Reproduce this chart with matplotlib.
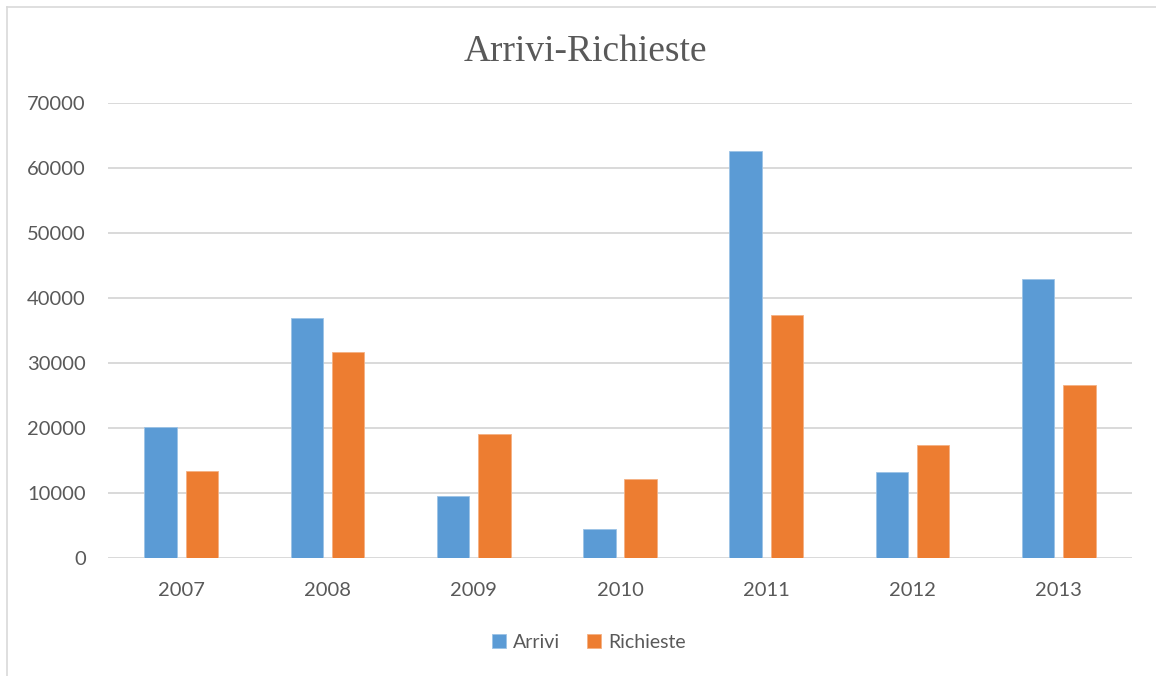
import matplotlib
matplotlib.use("Agg")
import matplotlib.pyplot as plt
from matplotlib.lines import Line2D
import numpy as np

# Data
years = ["2007", "2008", "2009", "2010", "2011", "2012", "2013"]
arrivi = [20150, 36900, 9540, 4400, 62650, 13230, 42870]
richieste = [13330, 31700, 19030, 12100, 37340, 17330, 26600]
y_ticks = [0, 10000, 20000, 30000, 40000, 50000, 60000, 70000]

BLUE = "#5B9BD5"
ORANGE = "#ED7D31"
TEXT = "#595959"
GRID = "#D9D9D9"

W, H = 1156, 676
fig = plt.figure(figsize=(W / 100, H / 100), dpi=100)
fig.patch.set_facecolor("white")

# Chart-area border (top and left edges)
fig.add_artist(Line2D([7 / W, 1.0], [1 - 7 / H, 1 - 7 / H], color=GRID, lw=1.2,
                      transform=fig.transFigure))
fig.add_artist(Line2D([7 / W, 7 / W], [0, 1 - 7 / H], color=GRID, lw=1.2,
                      transform=fig.transFigure))

left, right = 108 / W, 1132 / W
bottom, top = (H - 558) / H, (H - 103) / H
ax = fig.add_axes([left, bottom, right - left, top - bottom])

x = np.arange(len(years))
bw = 0.222
off = 0.141
ax.bar(x - off, arrivi, width=bw, color=BLUE, edgecolor="#9CC3E6", linewidth=0.6,
       label="Arrivi", zorder=3)
ax.bar(x + off, richieste, width=bw, color=ORANGE, edgecolor="#F4B183", linewidth=0.6,
       label="Richieste", zorder=3)

ax.set_xlim(-0.5, len(years) - 0.5)
ax.set_ylim(0, 70000)
ax.set_yticks(y_ticks)
ax.set_yticklabels([str(v) for v in y_ticks])
ax.set_xticks(x)
ax.set_xticklabels(years)

ax.grid(axis="y", color=GRID, lw=1.4, zorder=0)
ax.set_axisbelow(True)
for s in ax.spines.values():
    s.set_visible(False)
ax.tick_params(axis="both", length=0, labelsize=14.5, colors=TEXT)
ax.tick_params(axis="y", pad=16)
ax.tick_params(axis="x", pad=17)
for lab in ax.get_xticklabels() + ax.get_yticklabels():
    lab.set_fontfamily("Lato")

fig.text(585 / W, 1 - 52 / H, "Arrivi-Richieste", ha="center", va="center",
         fontsize=27, color=TEXT, fontfamily="Liberation Serif")

leg = fig.legend(loc="center", bbox_to_anchor=(589 / W, 1 - 642 / H), ncol=2,
                 frameon=False, prop={"family": "Lato", "size": 14},
                 handlelength=0.72, handleheight=0.72, handletextpad=0.35,
                 columnspacing=1.4, labelcolor=TEXT)

fig.savefig("out.png", dpi=100, facecolor="white")
